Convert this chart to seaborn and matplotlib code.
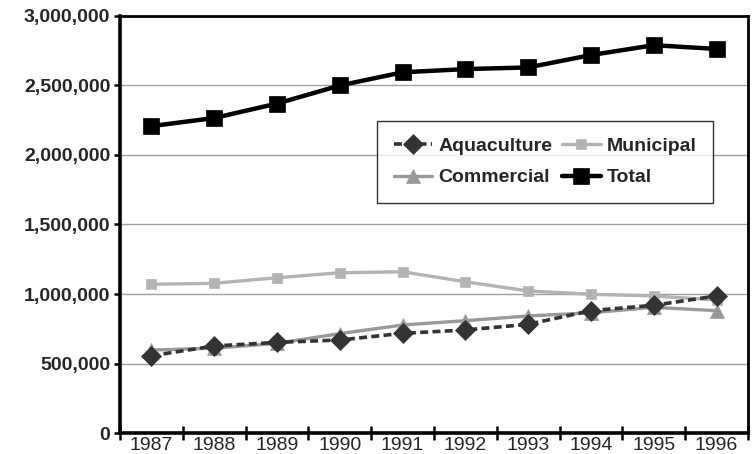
import matplotlib
matplotlib.use("Agg")
import matplotlib.pyplot as plt
import matplotlib.ticker as mticker
import seaborn as sns
import pandas as pd

years = [1987, 1988, 1989, 1990, 1991, 1992, 1993, 1994, 1995, 1996]
aquaculture = [556000, 626000, 652000, 669000, 717000, 741000, 782000, 880000, 919000, 986000]
municipal = [1070000, 1077000, 1117000, 1153000, 1160000, 1088000, 1022000, 998000, 986000, 957000]
commercial = [597000, 610000, 645000, 715000, 777000, 808000, 842000, 865000, 904000, 880000]
total = [2208000, 2266000, 2370000, 2500000, 2595000, 2618000, 2630000, 2719000, 2790000, 2763000]

sns.set_theme(style="white")
plt.rcParams['font.family'] = ['Liberation Sans', 'DejaVu Sans']

fig = plt.figure(figsize=(7.55, 4.54), dpi=100)
ax = fig.add_axes([120/755, 21/454, 628/755, 417/454])

series = [
    ("Aquaculture", aquaculture, dict(color="#333333", lw=2.6, ls=(0, (2.2, 1.2)), marker="D", ms=10, mec="#333333")),
    ("Commercial", commercial, dict(color="#999999", lw=2.4, ls="-", marker="^", ms=10, mec="#999999")),
    ("Municipal", municipal, dict(color="#b3b3b3", lw=2.4, ls="-", marker="s", ms=7.5, mec="#b3b3b3")),
    ("Total", total, dict(color="#000000", lw=3.2, ls="-", marker="s", ms=11, mec="#000000")),
]
order = ["Municipal", "Commercial", "Aquaculture", "Total"]
handles = {}
for name in order:
    vals, kw = [(v, k) for n, v, k in series if n == name][0]
    df = pd.DataFrame({"year": years, "value": vals})
    sns.lineplot(data=df, x="year", y="value", ax=ax, color=kw["color"],
                 linewidth=kw["lw"], marker=kw["marker"], markersize=kw["ms"],
                 markeredgecolor=kw["mec"], markeredgewidth=0.5, label=name)
    line = ax.get_lines()[-1]
    line.set_linestyle(kw["ls"])
    handles[name] = line

ax.set_xlim(1986.5, 1996.5)
ax.set_ylim(0, 3000000)
ax.yaxis.set_major_locator(mticker.MultipleLocator(500000))
ax.yaxis.set_major_formatter(mticker.FuncFormatter(lambda v, p: f"{int(v):,}"))
ax.grid(axis="y", color="#a0a0a0", lw=1)
ax.set_axisbelow(True)

ax.set_xticks([y - 0.5 for y in years] + [1996.5])
ax.set_xticklabels([])
ax.set_xticks(years, minor=True)
ax.set_xticklabels([str(y) for y in years], minor=True, fontsize=14)
ax.tick_params(axis="x", which="major", direction="inout", length=10, width=1.8, color="black", bottom=True)
ax.tick_params(axis="x", which="minor", length=0, pad=3)
ax.yaxis.set_tick_params(which="major", direction="out", length=4, width=1.8, color="black", left=True, pad=3, labelsize=14)
for lbl in ax.get_yticklabels():
    lbl.set_fontweight("bold")

for s in ["left", "bottom"]:
    ax.spines[s].set_linewidth(2.6)
    ax.spines[s].set_color("black")
for s in ["top", "right"]:
    ax.spines[s].set_linewidth(2.0)
    ax.spines[s].set_color("black")

ax.set_xlabel("")
ax.set_ylabel("")
leg_order = ["Aquaculture", "Commercial", "Municipal", "Total"]
leg = ax.legend([handles[n] for n in leg_order], leg_order, ncol=2,
                loc="upper left", bbox_to_anchor=(257/628, 1 - 105/417),
                frameon=True, fancybox=False, edgecolor="black",
                prop={"weight": "bold", "size": 14}, handlelength=2.0,
                columnspacing=0.5, handletextpad=0.3, borderpad=0.85, labelspacing=0.7,
                borderaxespad=0)
leg.get_frame().set_linewidth(1.0)

fig.savefig("out.png", dpi=100)
